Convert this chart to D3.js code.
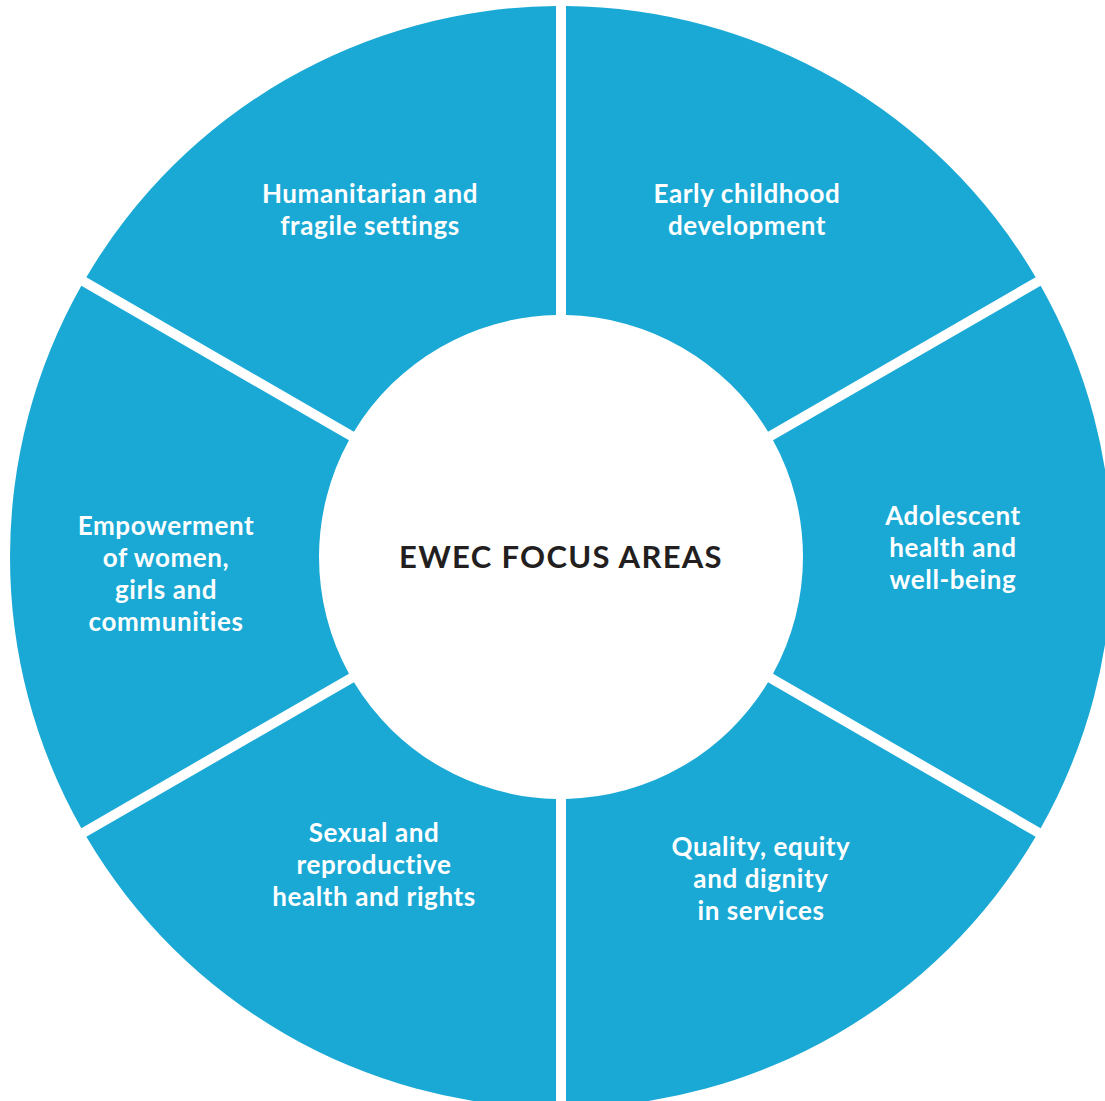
<!DOCTYPE html>
<html>
<head>
<meta charset="utf-8">
<script src="https://cdn.jsdelivr.net/npm/d3@7"></script>
<style>
  html, body { margin: 0; padding: 0; background: #fff; overflow: hidden; }
  svg { display: block; }
  text { font-variant-ligatures: none; }
</style>
</head>
<body>
<svg id="chart" width="1105" height="1101"></svg>
<script>
const svg = d3.select("#chart");

// Data: six focus areas, clockwise from 12 o'clock
const areas = [
  ["Early childhood", "development"],
  ["Adolescent", "health and", "well-being"],
  ["Quality, equity", "and dignity", "in services"],
  ["Sexual and", "reproductive", "health and rights"],
  ["Empowerment", "of women,", "girls and", "communities"],
  ["Humanitarian and", "fragile settings"]
];
const shares = [1, 1, 1, 1, 1, 1];
const title = "EWEC FOCUS AREAS";

const center = { x: 561, y: 557 };
const outerR = 551;
const innerR = 242;
const gap = 10;
const labelR = 396;
const lineH = 32;
// small hand nudges so each label block sits where it does in the original
const nudge = [[-12, -4], [-4, -9], [2, -21], [11, -35], [1, 17], [7, -4]];

const g = svg.append("g")
  .attr("transform", `translate(${center.x},${center.y})`);

const pie = d3.pie().sort(null).value(d => d);
const arc = d3.arc()
  .innerRadius(innerR)
  .outerRadius(outerR)
  .padRadius(outerR)
  .padAngle(gap / outerR);

const slices = pie(shares);

// Segments
g.selectAll("path")
  .data(slices)
  .join("path")
  .attr("d", arc)
  .attr("fill", "#1aa9d5");

// Labels
const labelArc = d3.arc().innerRadius(labelR).outerRadius(labelR);

g.selectAll("text.label")
  .data(slices)
  .join("text")
  .attr("class", "label")
  .attr("text-anchor", "middle")
  .style("font-family", "Lato, 'Open Sans', sans-serif")
  .style("font-weight", "700")
  .style("font-size", "26px")
  .style("letter-spacing", "0.6px")
  .style("fill", "#fff")
  .each(function (d, i) {
    const [cx, cy] = labelArc.centroid(d);
    const x = cx + nudge[i][0];
    const y = cy + nudge[i][1];
    const lines = areas[i];
    const t = d3.select(this);
    lines.forEach((line, j) => {
      t.append("tspan")
        .attr("x", x)
        .attr("y", y + (j - (lines.length - 1) / 2) * lineH)
        .attr("dy", "0.35em")
        .text(line);
    });
  });

// Centre title
g.append("text")
  .attr("text-anchor", "middle")
  .attr("dy", "0.35em")
  .style("font-family", "Lato, 'Open Sans', sans-serif")
  .style("font-weight", "700")
  .style("font-size", "31px")
  .style("letter-spacing", "1.3px")
  .style("fill", "#231f20")
  .text(title);
</script>
</body>
</html>
